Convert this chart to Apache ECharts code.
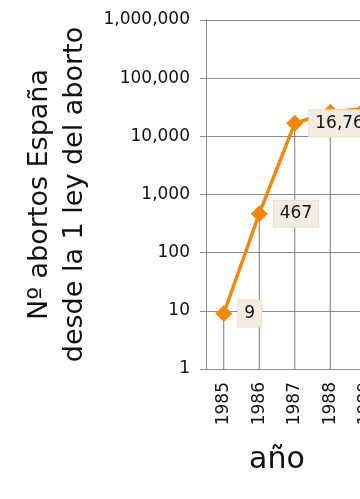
<!DOCTYPE html>
<html>
<head>
<meta charset="utf-8">
<script src="https://cdn.jsdelivr.net/npm/echarts@6/dist/echarts.min.js"></script>
<style>
html,body{margin:0;padding:0;overflow:hidden;background:#fff;width:360px;height:499px;}
#c{width:400px;height:499px;}
</style>
</head>
<body>
<div id="c"></div>
<script>
var years = ['1985', '1986', '1987', '1988', '1989'];
var abortos = [9, 467, 16766, 26069, 30552];
var labeled = [true, true, true, false, false];
var yTicks = [1, 10, 100, 1000, 10000, 100000, 1000000];

var FONT = 'DejaVu Sans';
var ORANGE = '#F5870C';
var GRID = '#8a8a8a';

var chart = echarts.init(document.getElementById('c'), null, {renderer: 'canvas'});

function fmt(v) {
  return Number(v).toLocaleString('en-US');
}

var lineData = abortos.map(function (v, i) {
  return {
    value: v,
    label: {show: labeled[i]}
  };
});

chart.setOption({
  animation: false,
  textStyle: {fontFamily: FONT},
  title: {
    text: 'año',
    left: 272,
    textAlign: 'center',
    top: 440,
    textStyle: {fontFamily: FONT, fontSize: 30, fontWeight: 'normal', color: '#111'}
  },
  grid: {left: 206, top: 20, bottom: 130, right: 16.5, containLabel: false},
  xAxis: {
    type: 'category',
    data: years,
    boundaryGap: true,
    axisLine: {show: true, lineStyle: {color: GRID, width: 1}},
    axisTick: {show: false},
    splitLine: {show: false},
    axisLabel: {
      rotate: 90,
      margin: 13,
      fontFamily: FONT,
      fontSize: 17,
      color: '#111'
    }
  },
  yAxis: {
    type: 'log',
    logBase: 10,
    min: yTicks[0],
    max: yTicks[yTicks.length - 1],
    interval: 1,
    name: 'Nº abortos España\ndesde la 1 ley del aborto',
    nameLocation: 'middle',
    nameGap: 114,
    nameRotate: 90,
    nameTextStyle: {fontFamily: FONT, fontSize: 27, color: '#111', lineHeight: 35, padding: [0, 0, 0, 0]},
    axisLine: {show: true, lineStyle: {color: GRID, width: 1}},
    axisTick: {show: true, length: 6, lineStyle: {color: GRID}},
    splitLine: {show: true, lineStyle: {color: GRID, width: 1}},
    axisLabel: {
      margin: 16,
      fontFamily: FONT,
      fontSize: 17,
      color: '#111',
      formatter: function (v) { return fmt(v); }
    }
  },
  series: [
    {
      type: 'bar',
      data: abortos,
      barWidth: 1,
      itemStyle: {color: '#7a7a7a'},
      z: 1,
      silent: true
    },
    {
      type: 'line',
      data: lineData,
      symbol: 'diamond',
      symbolSize: 17,
      lineStyle: {color: ORANGE, width: 3.5},
      itemStyle: {color: ORANGE},
      z: 3,
      label: {
        show: false,
        position: 'right',
        distance: 6,
        fontFamily: FONT,
        fontSize: 17,
        color: '#111',
        backgroundColor: '#F3ECE0',
        borderColor: '#E8DFCD',
        borderWidth: 1,
        padding: [5, 6, 4, 6],
        formatter: function (p) { return fmt(p.value); }
      }
    }
  ]
});
</script>
</body>
</html>
